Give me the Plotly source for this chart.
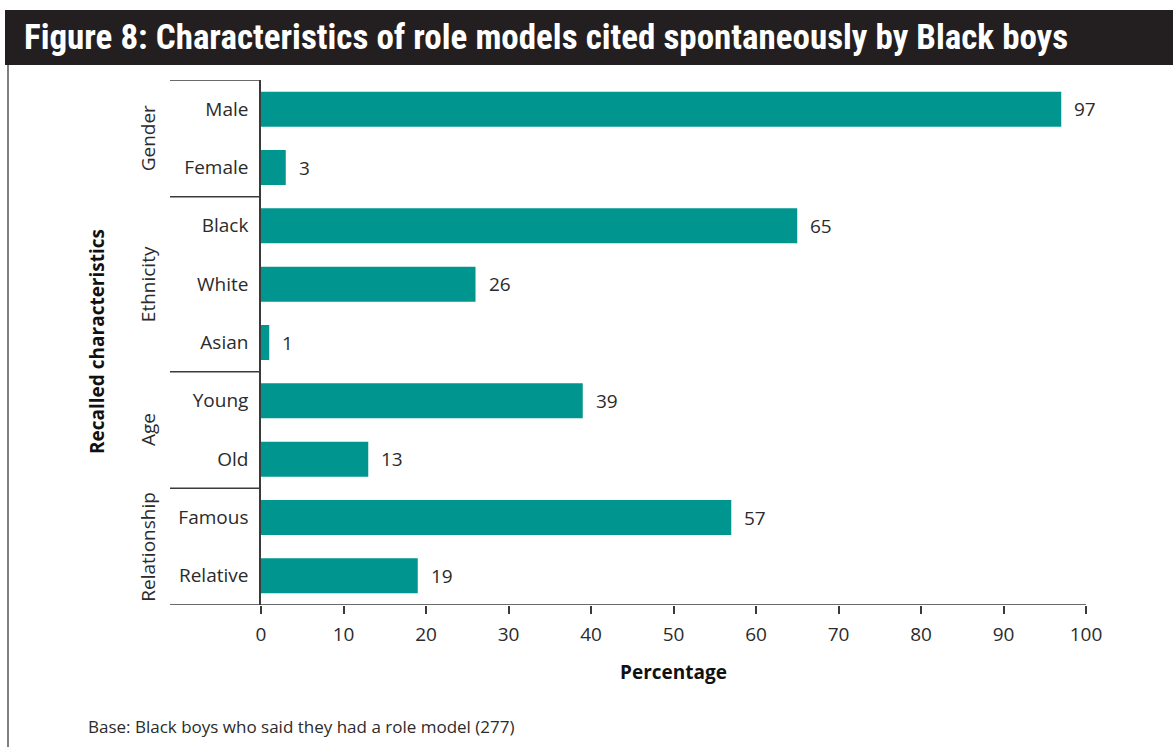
import plotly.graph_objects as go

# data
categories = ["Male", "Female", "Black", "White", "Asian", "Young", "Old", "Famous", "Relative"]
values = [97, 3, 65, 26, 1, 39, 13, 57, 19]
groups = ["Gender", "Ethnicity", "Age", "Relationship"]
group_sizes = [2, 3, 2, 2]
x_ticks = [0, 10, 20, 30, 40, 50, 60, 70, 80, 90, 100]

W, H = 1173, 747
L, R, T, B = 261, 1086, 80, 605
TEAL = "#00968F"
DARK = "#231F20"
TXT = "#2b2b2b"
FONT = "Open Sans, Noto Sans, sans-serif"


def px(x):
    return (x - L) / (R - L)


def py(y):
    return (B - y) / (B - T)


idx = list(range(len(categories)))

fig = go.Figure()
fig.add_trace(go.Bar(
    x=values,
    y=idx,
    orientation="h",
    width=0.6,
    marker=dict(color=TEAL, line=dict(width=0)),
    hoverinfo="skip",
))

annotations = []
for i, v in zip(idx, values):
    annotations.append(dict(
        x=v, y=i, xref="x", yref="y", text=str(v), showarrow=False,
        xanchor="left", yanchor="middle", xshift=11,
        font=dict(size=19, color=TXT, family=FONT),
    ))

shapes = []
# group separators
start = 0
bounds = [-0.5]
for n in group_sizes:
    start += n
    bounds.append(start - 0.5)
for b in bounds:
    shapes.append(dict(type="line", xref="paper", yref="y",
                       x0=px(170), x1=0 if b != bounds[-1] else 1, y0=b, y1=b,
                       line=dict(color="#3a3a3a", width=1.5)))

# group labels
start = 0
for g, n in zip(groups, group_sizes):
    mid = start + (n - 1) / 2
    annotations.append(dict(
        x=px(148), y=mid, xref="paper", yref="y", text=g, showarrow=False,
        textangle=-90, xanchor="center", yanchor="middle",
        font=dict(size=19, color=TXT, family=FONT),
    ))
    start += n

annotations.append(dict(
    x=px(97), y=py(342), xref="paper", yref="paper", text="<b>Recalled characteristics</b>",
    showarrow=False, textangle=-90, xanchor="center", yanchor="middle",
    font=dict(size=19, color="#111", family=FONT),
))
annotations.append(dict(
    x=0.5, y=py(672), xref="paper", yref="paper", text="<b>Percentage</b>",
    showarrow=False, xanchor="center", yanchor="middle",
    font=dict(size=19, color="#111", family=FONT),
))
annotations.append(dict(
    x=px(86), y=py(726), xref="paper", yref="paper",
    text="Base: Black boys who said they had a role model (277)",
    showarrow=False, xanchor="left", yanchor="middle",
    font=dict(size=17, color=TXT, family=FONT),
))

# title bar
shapes.append(dict(type="rect", xref="paper", yref="paper",
                   x0=px(5), x1=px(1180), y0=py(10), y1=py(65),
                   fillcolor=DARK, line=dict(width=0), layer="below"))
shapes.append(dict(type="line", xref="paper", yref="paper",
                   x0=px(8), x1=px(8), y0=py(65), y1=py(750),
                   line=dict(color="#555", width=1.5)))
annotations.append(dict(
    x=px(22), y=py(38), xref="paper", yref="paper",
    text="<b>Figure 8: Characteristics of role models cited spontaneously by Black boys</b>",
    showarrow=False, xanchor="left", yanchor="middle",
    font=dict(size=35, color="white", family="Liberation Sans Narrow, Roboto Condensed, Roboto, sans-serif"),
))

fig.update_layout(
    width=W, height=H,
    margin=dict(l=L, r=W - R, t=T, b=H - B),
    paper_bgcolor="white", plot_bgcolor="white",
    showlegend=False,
    bargap=0.4,
    xaxis=dict(
        range=[0, 100], tickvals=x_ticks, ticktext=[str(t) for t in x_ticks],
        ticks="outside", ticklen=8, tickwidth=1.5, tickcolor="#3a3a3a",
        ticklabelstandoff=4,
        showgrid=False, zeroline=False, showline=False,
        tickfont=dict(size=19, color=TXT, family=FONT),
    ),
    yaxis=dict(
        range=[len(categories) - 0.5, -0.5],
        tickvals=idx, ticktext=categories,
        ticks="", ticklabelstandoff=7,
        showgrid=False, zeroline=False,
        showline=True, linecolor="#3a3a3a", linewidth=1.5,
        tickfont=dict(size=19, color=TXT, family=FONT),
    ),
    shapes=shapes,
    annotations=annotations,
)

fig.write_html("out.html", config={"displayModeBar": False},
               post_script="document.body.style.margin='0';")
